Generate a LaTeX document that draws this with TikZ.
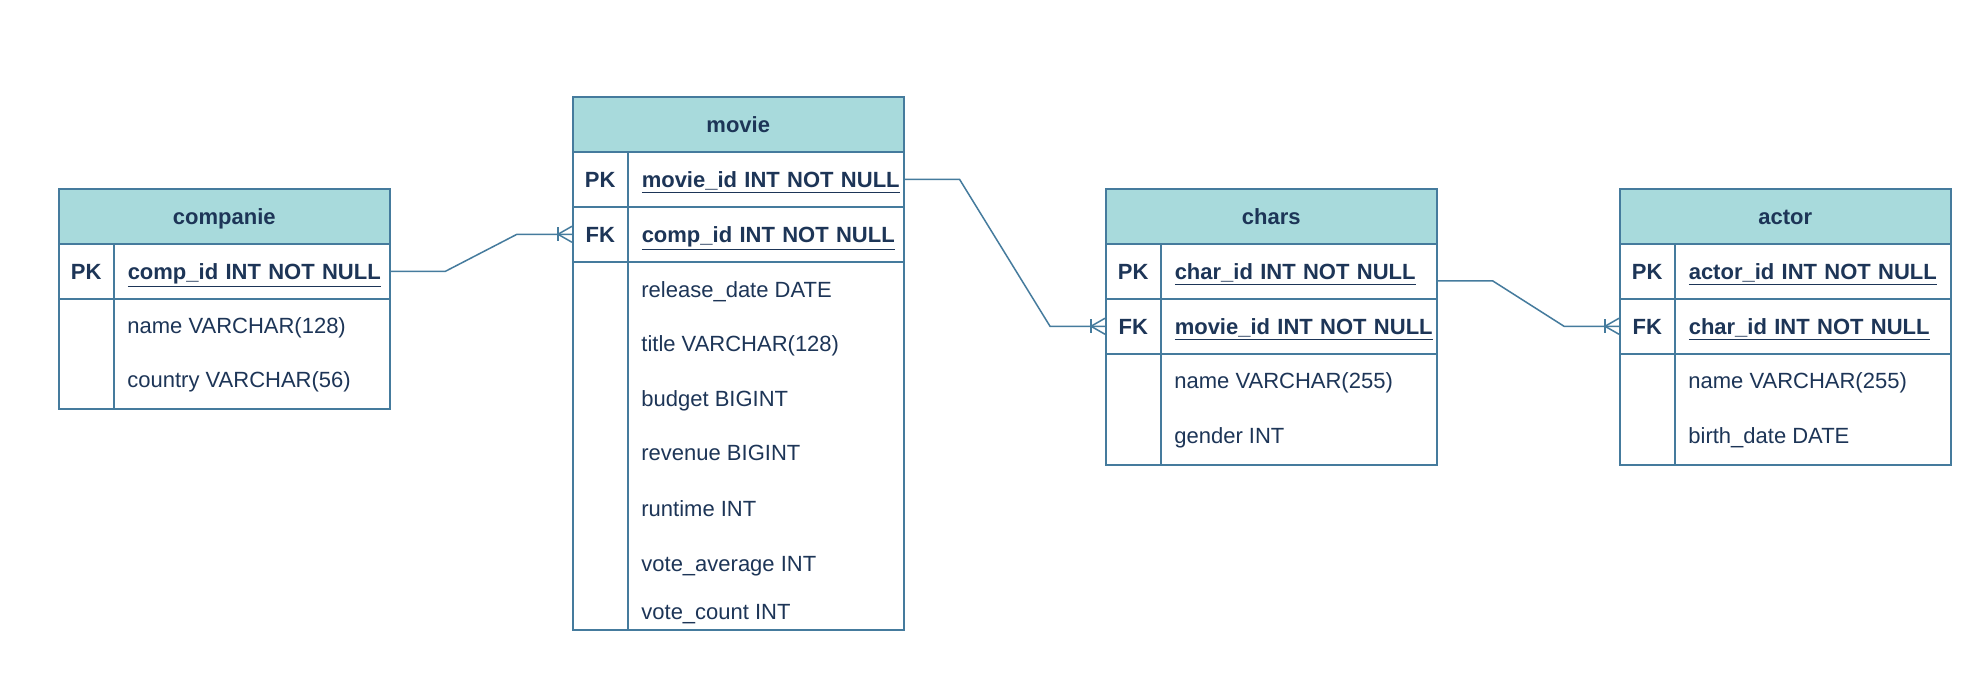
\documentclass[tikz,border=0pt]{standalone}
\usepackage{fontspec}
\setmainfont{Liberation Sans}
\usetikzlibrary{calc}

\definecolor{erfill}{HTML}{A8DADC}
\definecolor{erline}{HTML}{457B9D}
\definecolor{ertext}{HTML}{1D3557}

\tikzset{
  erfont/.style={font=\fontsize{11}{13}\selectfont, text height=9pt, text depth=1.1pt},
  cell/.style={draw=erline, line width=0.75pt, inner sep=0pt, minimum height=27.5pt,
    anchor=north west, text=ertext, erfont},
  hdr/.style={cell, fill=erfill, minimum width=165.5pt, font=\fontsize{11}{13}\selectfont\bfseries},
  keycell/.style={cell, minimum width=27.5pt, font=\fontsize{11}{13}\selectfont\bfseries},
  fieldcell/.style={cell, text width=124pt, inner xsep=7pt, align=left,
    font=\fontsize{11}{13}\selectfont\bfseries},
  bodybox/.style={cell, minimum width=138pt},
  field/.style={anchor=west, inner sep=0pt, text=ertext, erfont},
  conn/.style={draw=erline, line width=0.75pt},
}

\newcommand\crowsfoot[1]{%
  \draw[conn] (#1) ++(-14,-7) -- ++(0,14);
  \draw[conn] (#1) ++(0,-8) -- ++(-14,8) -- ++(14,8);
  \draw[conn] (#1) ++(-14,0) -- (#1);
}

\begin{document}
\begin{tikzpicture}[x=0.5pt,y=-0.5pt]
  \fill[white] (0,0) rectangle (1986,698);

  % companie
  \node[hdr] (companie) at (58,188) {companie};
  \node[keycell] (companie-pkk) at (58,243) {PK};
  \node[fieldcell] (companie-pk) at (113,243) {\underline{comp\_id INT NOT NULL}};
  \node[keycell, minimum height=55pt] (companie-bk) at (58,298) {};
  \node[bodybox, minimum height=55pt] (companie-b) at (113,298) {};
  \node[field] (companie-f1) at (127,326) {name VARCHAR(128)};
  \node[field] (companie-f2) at (127,380) {country VARCHAR(56)};

  % movie
  \node[hdr] (movie) at (572,96) {movie};
  \node[keycell] (movie-pkk) at (572,151) {PK};
  \node[fieldcell] (movie-pk) at (627,151) {\underline{movie\_id INT NOT NULL}};
  \node[keycell] (movie-fkk) at (572,206) {FK};
  \node[fieldcell] (movie-fk) at (627,206) {\underline{comp\_id INT NOT NULL}};
  \node[keycell, minimum height=184pt] (movie-bk) at (572,261) {};
  \node[bodybox, minimum height=184pt] (movie-b) at (627,261) {};
  \node[field] (movie-f1) at (641,290) {release\_date DATE};
  \node[field] (movie-f2) at (641,344) {title VARCHAR(128)};
  \node[field] (movie-f3) at (641,399) {budget BIGINT};
  \node[field] (movie-f4) at (641,453) {revenue BIGINT};
  \node[field] (movie-f5) at (641,509) {runtime INT};
  \node[field] (movie-f6) at (641,564) {vote\_average INT};
  \node[field] (movie-f7) at (641,612) {vote\_count INT};

  % chars
  \node[hdr] (chars) at (1105,188) {chars};
  \node[keycell] (chars-pkk) at (1105,243) {PK};
  \node[fieldcell] (chars-pk) at (1160,243) {\underline{char\_id INT NOT NULL}};
  \node[keycell] (chars-fkk) at (1105,298) {FK};
  \node[fieldcell] (chars-fk) at (1160,298) {\underline{movie\_id INT NOT NULL}};
  \node[keycell, minimum height=55.5pt] (chars-bk) at (1105,353) {};
  \node[bodybox, minimum height=55.5pt] (chars-b) at (1160,353) {};
  \node[field] (chars-f1) at (1174,381) {name VARCHAR(255)};
  \node[field] (chars-f2) at (1174,436) {gender INT};

  % actor
  \node[hdr] (actor) at (1619,188) {actor};
  \node[keycell] (actor-pkk) at (1619,243) {PK};
  \node[fieldcell] (actor-pk) at (1674,243) {\underline{actor\_id INT NOT NULL}};
  \node[keycell] (actor-fkk) at (1619,298) {FK};
  \node[fieldcell] (actor-fk) at (1674,298) {\underline{char\_id INT NOT NULL}};
  \node[keycell, minimum height=55.5pt] (actor-bk) at (1619,353) {};
  \node[bodybox, minimum height=55.5pt] (actor-b) at (1674,353) {};
  \node[field] (actor-f1) at (1688,381) {name VARCHAR(255)};
  \node[field] (actor-f2) at (1688,436) {birth\_date DATE};

  % relations
  \draw[conn] (companie-pk.east) -- ++(55,0) -- ($(movie-fkk.west)+(-55,0)$) -- (movie-fkk.west);
  \crowsfoot{movie-fkk.west}
  \draw[conn] (movie-pk.east) -- ++(55,0) -- ($(chars-fkk.west)+(-55,0)$) -- (chars-fkk.west);
  \crowsfoot{chars-fkk.west}
  \coordinate (chars-out) at ($(chars-pk.east)+(0,9.5)$);
  \draw[conn] (chars-out) -- ++(55,0) -- ($(actor-fkk.west)+(-55,0)$) -- (actor-fkk.west);
  \crowsfoot{actor-fkk.west}
\end{tikzpicture}
\end{document}
